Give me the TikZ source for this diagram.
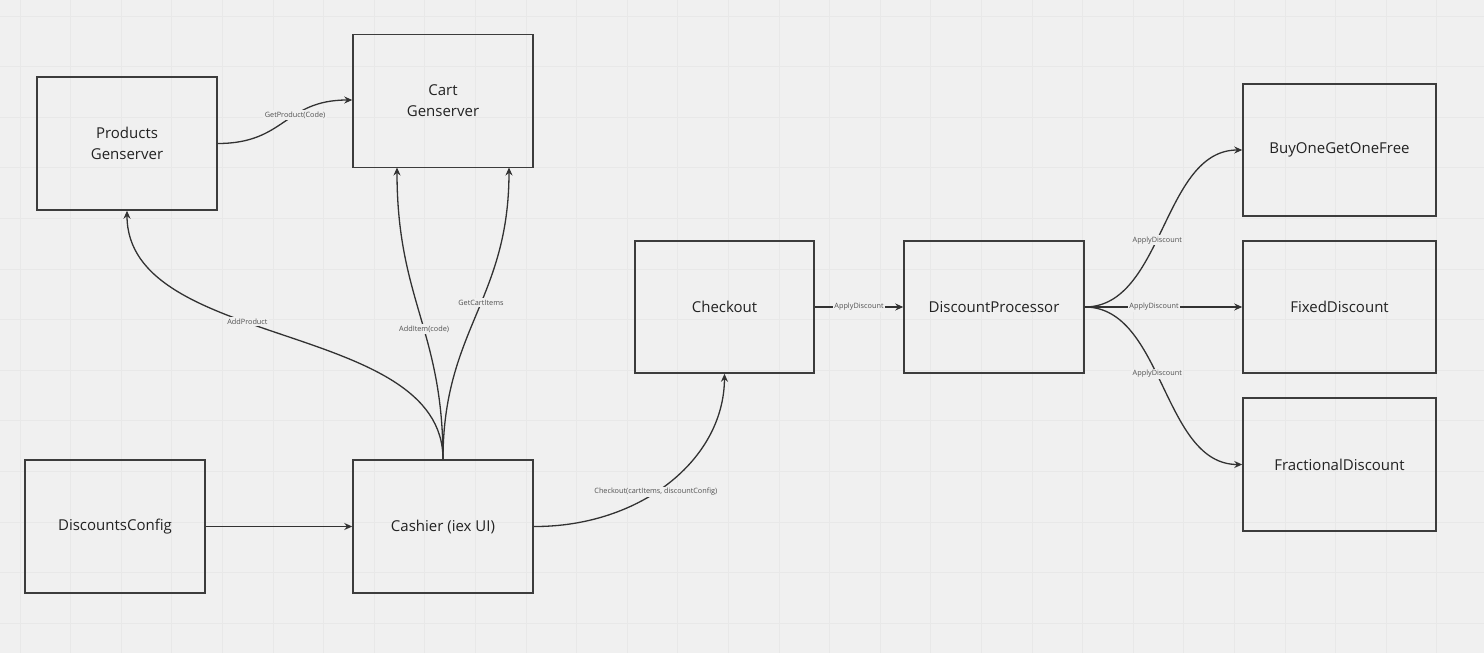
\documentclass[tikz,border=0pt]{standalone}
\usepackage{fontspec}
\setmainfont{Open Sans}
\usetikzlibrary{arrows.meta}
\definecolor{bgc}{RGB}{240,240,240}
\definecolor{gridc}{RGB}{232,232,232}
\definecolor{boxc}{RGB}{60,60,60}
\definecolor{linec}{RGB}{50,50,50}
\definecolor{txtc}{RGB}{34,34,34}
\definecolor{lblc}{RGB}{80,80,80}
\tikzset{
  box/.style={draw=boxc, line width=1.5pt, minimum width=180pt, minimum height=133pt,
    inner sep=0pt, text=txtc, align=center, font=\fontsize{15}{21}\selectfont},
  widebox/.style={box, minimum width=193pt},
  conn/.style={draw=linec, line width=1.3pt, -{Stealth[length=8pt,width=7pt]}},
  lbl/.style={fill=bgc, text=lblc, inner sep=1.5pt, font=\fontsize{7.3}{8}\selectfont}
}
\begin{document}
\begin{tikzpicture}[x=1pt,y=-1pt]
\fill[bgc] (0,0) rectangle (1484,653);
\useasboundingbox (0,0) rectangle (1484,653);
\foreach \k in {0,...,29} { \draw[gridc, line width=1pt] ({20+50.6*\k},0) -- ({20+50.6*\k},653); }
\foreach \k in {0,...,12} { \draw[gridc, line width=1pt] (0,{16+50.6*\k}) -- (1484,{16+50.6*\k}); }

\node[box] (prod) at (127,143.5) {Products\\Genserver};
\node[box] (cart) at (443,101) {Cart\\Genserver};
\node[box] (dcfg) at (115,526.5) {DiscountsConfig};
\node[box] (cash) at (443,526.5) {Cashier (iex UI)};
\node[box, minimum width=179pt, minimum height=132pt] (chk) at (724.5,307) {Checkout};
\node[box, minimum height=132pt] (dp) at (994,307) {DiscountProcessor};
\node[widebox, minimum height=132pt] (bogo) at (1339.5,150) {BuyOneGetOneFree};
\node[widebox, minimum height=132pt] (fixed) at (1339.5,307) {FixedDiscount};
\node[widebox] (frac) at (1339.5,464.5) {FractionalDiscount};
\coordinate (cartA) at (397,167.5);
\coordinate (cartB) at (509,167.5);

\draw[conn] (prod.east) .. controls +(68,0) and +(-68,0) .. (cart.west |- 0,100)
  node[lbl, pos=0.6] {GetProduct(Code)};
\draw[conn] (cash.north) .. controls (443,320) and (127,350) .. (prod.south)
  node[lbl, pos=0.58] {AddProduct};
\draw[conn] (cash.north) .. controls (443,330) and (397,300) .. (cartA)
  node[lbl, pos=0.44] {AddItem(code)};
\draw[conn] (cash.north) .. controls (443,330) and (509,300) .. (cartB)
  node[lbl, pos=0.55] {GetCartItems};
\draw[conn] (dcfg.east) -- (cash.west);
\draw[conn] (cash.east) .. controls (640,527) and (724,460) .. (chk.south)
  node[lbl, pos=0.44] {Checkout(cartItems, discountConfig)};
\draw[conn] (chk.east) -- (dp.west) node[lbl, midway] {ApplyDiscount};
\draw[conn] (dp.east) .. controls +(79,0) and +(-80,0) .. (bogo.west)
  node[lbl, pos=0.45] {ApplyDiscount};
\draw[conn] (dp.east) -- (fixed.west) node[lbl, pos=0.44] {ApplyDiscount};
\draw[conn] (dp.east) .. controls +(79,0) and +(-80,0) .. (frac.west)
  node[lbl, pos=0.45] {ApplyDiscount};
\end{tikzpicture}
\end{document}
